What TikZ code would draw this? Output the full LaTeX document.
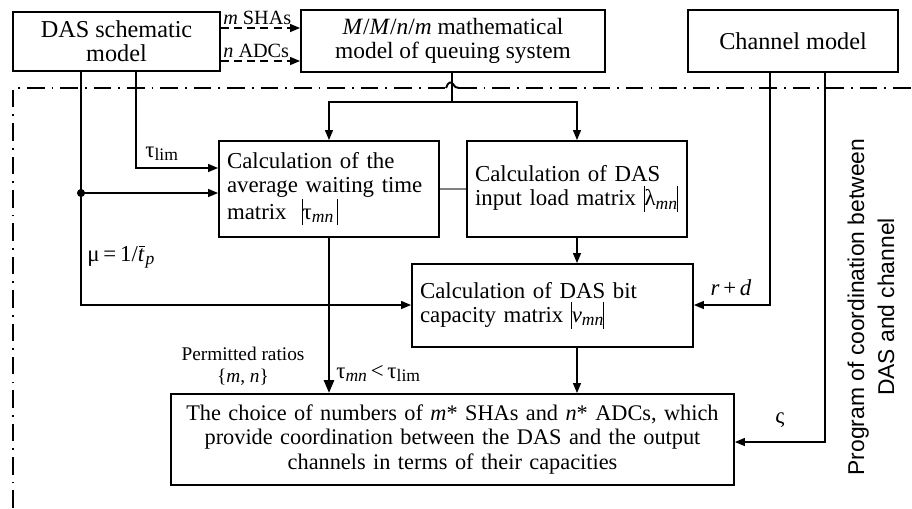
\documentclass[tikz,border=0pt]{standalone}
\usepackage{fontspec}
\setmainfont{Liberation Serif}
\newfontfamily\sansf{Liberation Sans}
\usepackage{tikz}
\usetikzlibrary{arrows.meta}
\newcommand{\vbar}{\rule[-0.28em]{0.45pt}{1.15em}}
\newcommand{\sbs}[1]{\raisebox{-0.35ex}{\fontsize{10}{10}\selectfont #1}}
\newcommand{\tbar}{\textit{t}\kern-0.24em\raisebox{0.64em}{\rule{0.26em}{0.45pt}}\kern0.02em}
\tikzset{
  box/.style={draw,line width=1.1pt,align=center,inner sep=0pt},
  lbox/.style={draw,line width=1.1pt,align=left,inner xsep=0.16cm,inner ysep=0pt},
  ln/.style={line width=0.75pt},
  ar/.style={-{Triangle[length=2mm,width=1.6mm]},line width=0.75pt},
  dar/.style={-{Triangle[length=2mm,width=1.6mm]},line width=0.75pt,dash pattern=on 4.5pt off 3pt},
  bar/.style={-{Triangle[length=2.6mm,width=2mm]},line width=1.5pt},
  bound/.style={line width=1.2pt,dash pattern=on 10pt off 4pt on 1pt off 4pt},
  lbl/.style={inner sep=0pt}
}
\begin{document}
\begin{tikzpicture}[x=0.02cm,y=-0.02cm,font=\fontsize{13}{13.6}\selectfont]
\useasboundingbox (0,0) rectangle (912,508);
% top row
\node[box,minimum width=4.14cm,minimum height=1.18cm,font=\fontsize{13.8}{13.8}\selectfont] (das) at (116.5,41.5) {DAS schematic\\model};
\node[box,minimum width=6.08cm,minimum height=1.24cm,font=\fontsize{13.3}{13.8}\selectfont] (mmq) at (453,41) {\textit{M}/\textit{M}/\textit{n}/\textit{m} mathematical\\model of queuing system};
\node[box,minimum width=4.2cm,minimum height=1.24cm,font=\fontsize{13.8}{14}\selectfont] (chan) at (793,41) {Channel model};
% calculation blocks
\node[lbox,text width=4.08cm,minimum height=1.92cm] (wait) at (329,189) {Calculation of the\\average waiting time\\matrix\ \ \vbar τ\sbs{\textit{mn}}\,\vbar};
\node[lbox,text width=4.08cm,minimum height=1.92cm] (load) at (577,189) {Calculation of DAS\\input load matrix \vbar λ\sbs{\textit{mn}}\vbar};
\node[lbox,text width=5.30cm,minimum height=1.66cm] (bitc) at (552.5,305.5) {Calculation of DAS bit\\capacity matrix \vbar\textit{v}\sbs{\textit{mn}}\vbar};
\node[box,text width=11.26cm,minimum height=1.82cm,font=\fontsize{12.7}{13.8}\selectfont] (choice) at (452.5,439.5) {The choice of numbers of \textit{m}* SHAs and \textit{n}* ADCs, which\\provide coordination between the DAS and the output\\channels in terms of their capacities};
% bend points
\coordinate (ya) at (0,28);
\coordinate (yb) at (0,61);
\coordinate (dA) at (81,305);
\coordinate (dB) at (136,168);
\coordinate (jn) at (81,193);
\coordinate (sp) at (452,102);
\coordinate (cA) at (770,305);
\coordinate (cB) at (825,442);
% boundary of the program
\draw[bound] (13,508) -- (13,88) -- (446,88);
\draw[line width=1.1pt] (446,88) .. controls (448,82) and (451,81) .. (453,84) .. controls (455,87) and (456,88) .. (459,88);
\draw[bound] (459,88) -- (912,88);
% connectors
\draw[dar] (das.east |- ya) -- (mmq.west |- ya);
\draw[dar] (das.east |- yb) -- (mmq.west |- yb);
\node[lbl,anchor=base west,font=\fontsize{11.5}{12}\selectfont] (nsha) at (223,24) {\textit{m} SHAs};
\node[lbl,anchor=base west,font=\fontsize{11.5}{12}\selectfont] (nadc) at (223,57) {\textit{n} ADCs};
\draw[ar] (das.south -| dA) -- (dA) -- (bitc.west |- dA);
\draw[ar] (jn) -- (wait.west |- jn);
\fill (jn) circle (2.3pt);
\draw[ar] (das.south -| dB) -- (dB) -- (wait.west |- dB);
\draw[ln] (mmq.south -| sp) -- (sp);
\draw[ar] (sp) -| (wait.north);
\draw[ar] (sp) -| (load.north);
\draw[gray,line width=0.6pt] (wait.east) -- (load.west);
\draw[ar] (load.south) -- (load.south |- bitc.north);
\draw[ar] (load.south |- bitc.south) -- (load.south |- choice.north);
\draw[bar] (wait.south) -- (wait.south |- choice.north);
\draw[ar] (chan.south -| cA) -- (cA) -- (bitc.east |- cA);
\draw[ar] (chan.south -| cB) -- (cB) -- (choice.east |- cB);
% labels
\node[lbl,anchor=base west] (tlim) at (145,157) {τ\sbs{lim}};
\node[lbl,anchor=base west] (mu) at (87,261) {μ\,=\,1/\tbar\sbs{\textit{p}}};
\node[lbl,align=center,font=\fontsize{11}{12.5}\selectfont] (perm) at (243,366) {Permitted ratios\\\{\textit{m}, \textit{n}\}};
\node[lbl,anchor=base west] (cond) at (336,378) {τ\sbs{\textit{mn}}\,<\,τ\sbs{lim}};
\node[lbl,anchor=base] (rd) at (731,295) {\textit{r}\,+\,\textit{d}};
\node[lbl] (vs) at (780,420) {ς};
\node[lbl,rotate=90,align=center,font=\sansf\fontsize{13}{17}\selectfont] (prog) at (871,307) {Program of coordination between\\DAS and channel};
\end{tikzpicture}
\end{document}
